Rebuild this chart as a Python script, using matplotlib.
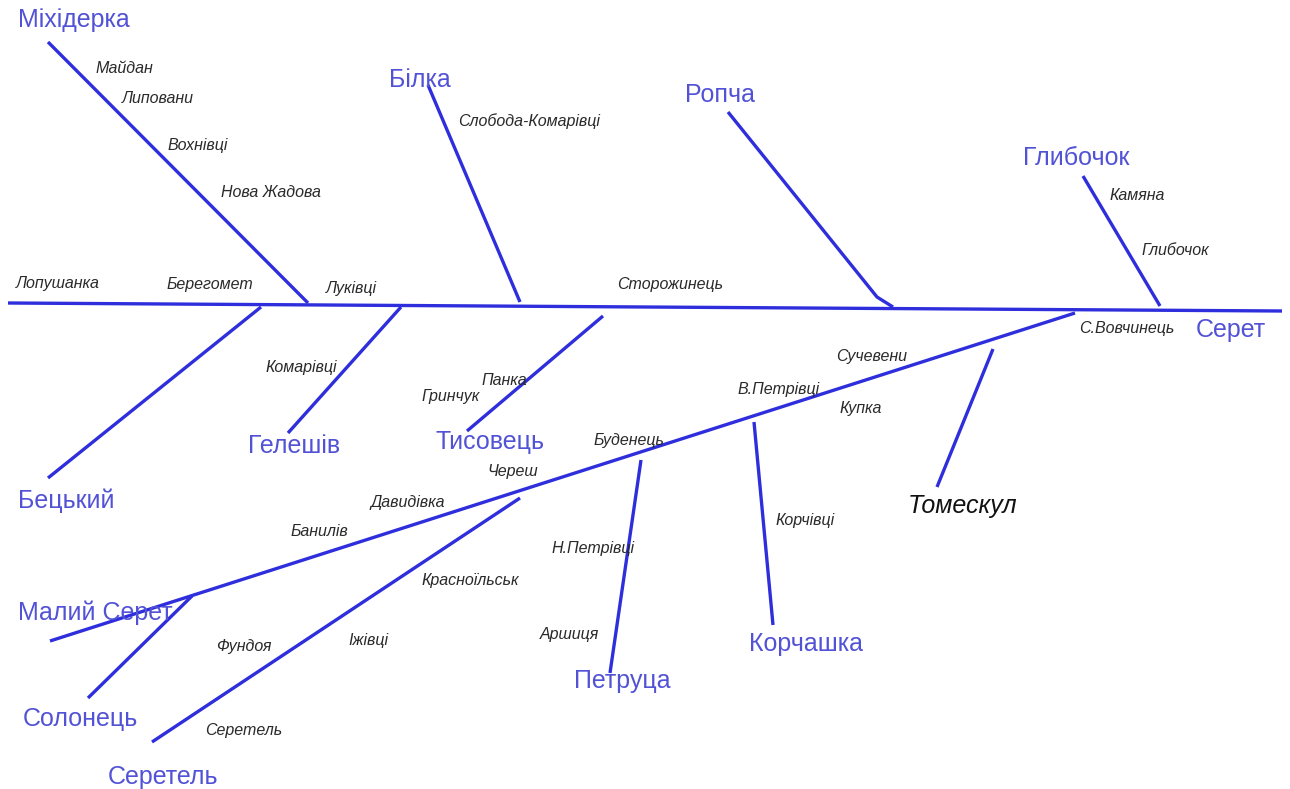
import matplotlib
matplotlib.use("Agg")
import matplotlib.pyplot as plt

plt.rcParams['font.family'] = ['Liberation Sans', 'DejaVu Sans']

# River segments (schematic coordinates, image-pixel space, y downwards)
river_names = ["Серет", "Міхідерка", "Білка", "Ропча", "Глибочок", "Бецький",
               "Гелешів", "Тисовець", "Малий Серет", "Солонець", "Серетель",
               "Петруца", "Корчашка", "Томескул"]
river_x = [[8, 1282], [48, 308], [428, 520], [728, 877, 893], [1083, 1160],
           [48, 261], [288, 401], [467, 603], [50, 1075], [88, 192],
           [152, 520], [610, 641], [773, 754], [937, 993]]
river_y = [[303, 311], [42, 303], [85, 302], [112, 297, 307], [176, 306],
           [478, 307], [433, 307], [431, 316], [641, 313], [698, 596],
           [742, 498], [673, 460], [625, 422], [487, 349]]

# River name labels (left x, centre y)
label_names = ["Міхідерка", "Білка", "Ропча", "Глибочок", "Серет", "Гелешів",
               "Тисовець", "Бецький", "Малий Серет", "Солонець", "Серетель",
               "Петруца", "Корчашка"]
label_x = [18, 389, 685, 1023, 1196, 248, 436, 18, 18, 23, 108, 574, 749]
label_y = [20, 80, 95, 158, 330, 446, 442, 501, 613, 719, 777, 681, 644]

# Special label (black italic)
special_name = "Томескул"
special_x = 908
special_y = 506

# Settlements (left x, centre y)
town_names = ["Майдан", "Липовани", "Вохнівці", "Нова Жадова", "Лопушанка",
              "Берегомет", "Луківці", "Слобода-Комарівці", "Сторожинець",
              "Камяна", "Глибочок", "С.Вовчинець", "Сучевени", "Купка",
              "В.Петрівці", "Буденець", "Череш", "Давидівка", "Банилів",
              "Красноїльськ", "Н.Петрівці", "Аршиця", "Корчівці", "Фундоя",
              "Іжівці", "Серетель", "Комарівці", "Панка", "Гринчук"]
town_x = [95, 122, 168, 221, 16, 167, 326, 458, 617, 1109, 1141, 1079, 836,
          840, 737, 594, 487, 370, 291, 421, 551, 540, 775, 216, 348, 205,
          265, 482, 422]
town_y = [68, 98, 145, 192, 283, 284, 288, 121, 284, 195, 250, 328, 356,
          408, 389, 440, 471, 502, 531, 580, 548, 634, 521, 647, 641, 731,
          367, 380, 396]

LINE_COLOR = "#2e2edc"
LABEL_COLOR = "#5252d6"
TOWN_COLOR = "#2a2a2a"

fig = plt.figure(figsize=(12.9, 7.89), dpi=100)
ax = fig.add_axes([0, 0, 1, 1])
ax.set_xlim(0, 1290)
ax.set_ylim(789, 0)
ax.axis("off")

for name, xs, ys in zip(river_names, river_x, river_y):
    ax.plot(xs, ys, color=LINE_COLOR, lw=2.4, solid_capstyle="butt")

for name, x, y in zip(label_names, label_x, label_y):
    ax.text(x, y, name, color=LABEL_COLOR, fontsize=18, ha="left", va="center")

ax.text(special_x, special_y, special_name, color="#111111", fontsize=18,
        style="italic", ha="left", va="center")

for name, x, y in zip(town_names, town_x, town_y):
    ax.text(x, y, name, color=TOWN_COLOR, fontsize=11.5, style="italic",
            ha="left", va="center")

fig.savefig("out.png", dpi=100, facecolor="white")
